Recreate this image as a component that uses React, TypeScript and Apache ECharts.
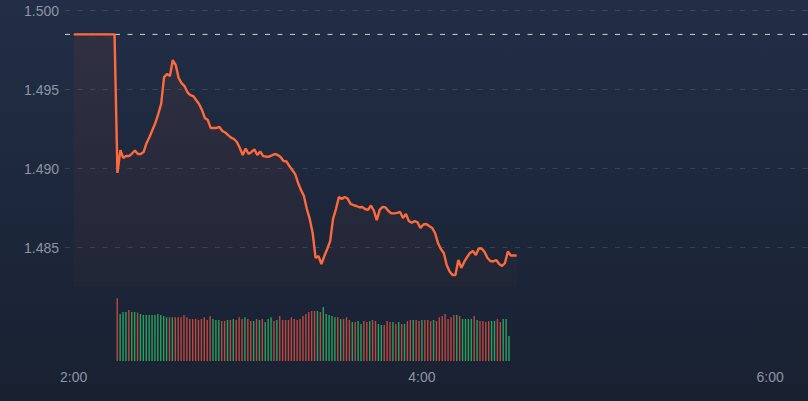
import React, { useEffect, useRef } from "react";
import * as echarts from "echarts";

// ---- data ----
const sessionStart = "2:00"; // first price point, one point per minute
const prevClose = 1.4985;
const prices = [
  1.4985, 1.4985, 1.4985, 1.4985, 1.4985, 1.4985, 1.4985, 1.4985, 1.4985, 1.4985,
  1.4985, 1.4985, 1.4985, 1.4985, 1.4985,
  1.48973, 1.49118, 1.49068, 1.4908, 1.4908, 1.49096, 1.49115, 1.49093, 1.49093, 1.49106,
  1.49163, 1.49201, 1.49245, 1.49289, 1.49346, 1.4941, 1.4958, 1.49599, 1.49587, 1.49688,
  1.49656, 1.49574, 1.49542, 1.49523, 1.49485, 1.49466, 1.4946, 1.49435, 1.4941, 1.49372,
  1.49321, 1.49308, 1.49258, 1.49258, 1.49258, 1.49264, 1.49239, 1.49229, 1.49213, 1.49197,
  1.49188, 1.49169, 1.49131, 1.49087, 1.49128, 1.49093, 1.49106, 1.49122, 1.49087, 1.49109,
  1.4908, 1.49077, 1.49076, 1.49084, 1.49093, 1.49087, 1.49074, 1.49049, 1.49046, 1.49017,
  1.48992, 1.48966, 1.4891, 1.48865, 1.48827, 1.48745, 1.48682, 1.48593, 1.48435, 1.48447,
  1.48397, 1.48447, 1.48492, 1.48542, 1.48682, 1.48745, 1.48821, 1.48808, 1.48821, 1.48811,
  1.48777, 1.4877, 1.48764, 1.48756, 1.48758, 1.48745, 1.48739, 1.48767, 1.48735, 1.48675,
  1.48739, 1.48758, 1.48755, 1.48732, 1.48717, 1.48717, 1.4872, 1.48726, 1.48688, 1.48714,
  1.48669, 1.48658, 1.48669, 1.4866, 1.48625, 1.48647, 1.4865, 1.48637, 1.48625, 1.48593,
  1.4853, 1.48492, 1.48467, 1.4839, 1.48349, 1.48327, 1.48327, 1.48422, 1.48372, 1.4841,
  1.48441, 1.48467, 1.48479, 1.48454, 1.48495, 1.48495, 1.48473, 1.48435, 1.48416, 1.48413,
  1.48422, 1.48397, 1.48384, 1.48403, 1.48476, 1.48451, 1.48451, 1.48451,
];

const volumeStart = "2:15"; // first volume bar, one bar per minute
const volumes = [
  188, 141, 147, 147, 153, 147, 147, 145, 141, 138,
  138, 138, 138, 138, 141, 138, 135, 131, 131, 131,
  131, 131, 131, 138, 131, 126, 126, 126, 123, 126,
  131, 123, 135, 126, 123, 123, 120, 120, 123, 123,
  126, 123, 131, 126, 131, 126, 120, 120, 126, 123,
  126, 117, 126, 131, 120, 123, 135, 123, 123, 123,
  131, 126, 123, 126, 135, 141, 147, 150, 150, 150,
  147, 162, 141, 138, 135, 131, 131, 126, 126, 131,
  123, 117, 117, 120, 111, 120, 117, 120, 123, 120,
  111, 108, 108, 120, 117, 117, 111, 117, 111, 111,
  120, 123, 123, 123, 120, 123, 123, 123, 120, 123,
  120, 131, 135, 141, 126, 131, 138, 138, 135, 126,
  126, 126, 126, 135, 123, 120, 120, 117, 120, 120,
  120, 126, 117, 126, 126, 75,
];
// r = down (red), g = up (green), one letter per volume bar
const volumeSides =
  "rgggrggrgg" + "ggggggggrg" + "rrrrrrrrrr" + "rrrgggrrgr" + "grrrgrrgrg" +
  "rgggrgrrrr" + "rrrrrrrrrg" + "rgggggrgrr" + "rgrggrrgrr" + "ggrrrgrgrg" +
  "rrgrrgrrrg" + "rrrrrrrgrg" + "gggrgrrrrg" + "grrggg";

const xTickLabels = ["2:00", "4:00", "6:00"];
const yTickValues = [1.485, 1.49, 1.495, 1.5];
const xRange = ["1:57", "6:12"];

const toMinutes = (t: string) => {
  const [h, m] = t.split(":").map(Number);
  return h * 60 + m;
};

export default function App() {
  const ref = useRef<HTMLDivElement>(null);

  useEffect(() => {
    if (!ref.current) return;
    const chart = echarts.init(ref.current, undefined, { renderer: "svg" });

    const p0 = toMinutes(sessionStart);
    const v0 = toMinutes(volumeStart);
    const xMin = toMinutes(xRange[0]);
    const xMax = toMinutes(xRange[1]);
    const priceData = prices.map((v, i) => [p0 + i, v]);
    const red = "#bc493f";
    const green = "#2ba05d";
    const volData = volumes.map((v, i) => ({
      value: [v0 + i, v],
      itemStyle: { color: volumeSides[i] === "g" ? green : red },
    }));
    const xLabelSet = new Set(xTickLabels.map(toMinutes));
    const xFmt = (v: number) => {
      if (!xLabelSet.has(Math.round(v)) || Math.abs(v - Math.round(v)) > 1e-6) return "";
      const h = Math.floor(v / 60);
      const m = v % 60;
      return `${h}:${m < 10 ? "0" + m : m}`;
    };
    const yFmt = (v: number) =>
      yTickValues.some((t) => Math.abs(t - v) < 1e-7) ? v.toFixed(3) : "";

    const labelColor = "#8c95a4";
    const font = "'Liberation Sans', Arial, sans-serif";

    chart.setOption({
      animation: false,
      backgroundColor: new echarts.graphic.LinearGradient(0, 0, 0, 1, [
        { offset: 0, color: "#212e46" },
        { offset: 1, color: "#192131" },
      ]),
      textStyle: { fontFamily: font },
      grid: [
        { left: 65, right: 0, top: 10.7, height: 276.5 },
        { left: 65, right: 0, top: 298.3, height: 62.7 },
      ],
      xAxis: [
        {
          type: "value",
          gridIndex: 0,
          min: xMin,
          max: xMax,
          interval: 1,
          axisLine: { show: false },
          axisTick: { show: false },
          axisLabel: { show: false },
          splitLine: { show: false },
        },
        {
          type: "value",
          gridIndex: 1,
          min: xMin,
          max: xMax,
          interval: 1,
          axisLine: { show: false },
          axisTick: { show: false },
          splitLine: { show: false },
          axisLabel: {
            color: labelColor,
            fontSize: 14,
            fontFamily: font,
            margin: 9,
            formatter: xFmt,
          },
        },
      ],
      yAxis: [
        {
          type: "value",
          gridIndex: 0,
          min: 1.4825,
          max: 1.5,
          splitNumber: 4,
          axisLine: { show: false },
          axisTick: { show: false },
          axisLabel: {
            color: labelColor,
            fontSize: 14,
            fontFamily: font,
            margin: 6,
            showMinLabel: false,
            formatter: yFmt,
          },
          splitLine: {
            show: true,
            showMinLine: false,
            lineStyle: { color: "rgba(255,255,255,0.12)", type: [5, 7.5], width: 1 },
          },
        },
        {
          type: "value",
          gridIndex: 1,
          min: 0,
          max: "dataMax",
          show: false,
          splitLine: { show: false },
        },
      ],
      series: [
        {
          type: "line",
          xAxisIndex: 0,
          yAxisIndex: 0,
          data: [
            [xMin, prevClose],
            [xMax, prevClose],
          ],
          showSymbol: false,
          symbol: "none",
          silent: true,
          lineStyle: { color: "rgba(255,255,255,0.78)", type: [5, 7.5], width: 1 },
          z: 2,
        },
        {
          type: "line",
          xAxisIndex: 0,
          yAxisIndex: 0,
          data: priceData,
          showSymbol: false,
          symbol: "none",
          lineStyle: { color: "#ff6a3d", width: 2.4 },
          areaStyle: {
            color: new echarts.graphic.LinearGradient(0, 0, 0, 1, [
              { offset: 0, color: "rgba(235,80,40,0.11)" },
              { offset: 1, color: "rgba(235,80,40,0.04)" },
            ]),
          },
          z: 3,
        },
        {
          type: "bar",
          xAxisIndex: 1,
          yAxisIndex: 1,
          data: volData,
          barWidth: 1.4,
        },
      ],
    });

    return () => chart.dispose();
  }, []);

  return (
    <div
      ref={ref}
      style={{ position: "fixed", left: 0, top: 0, width: 808, height: 401 }}
    />
  );
}
